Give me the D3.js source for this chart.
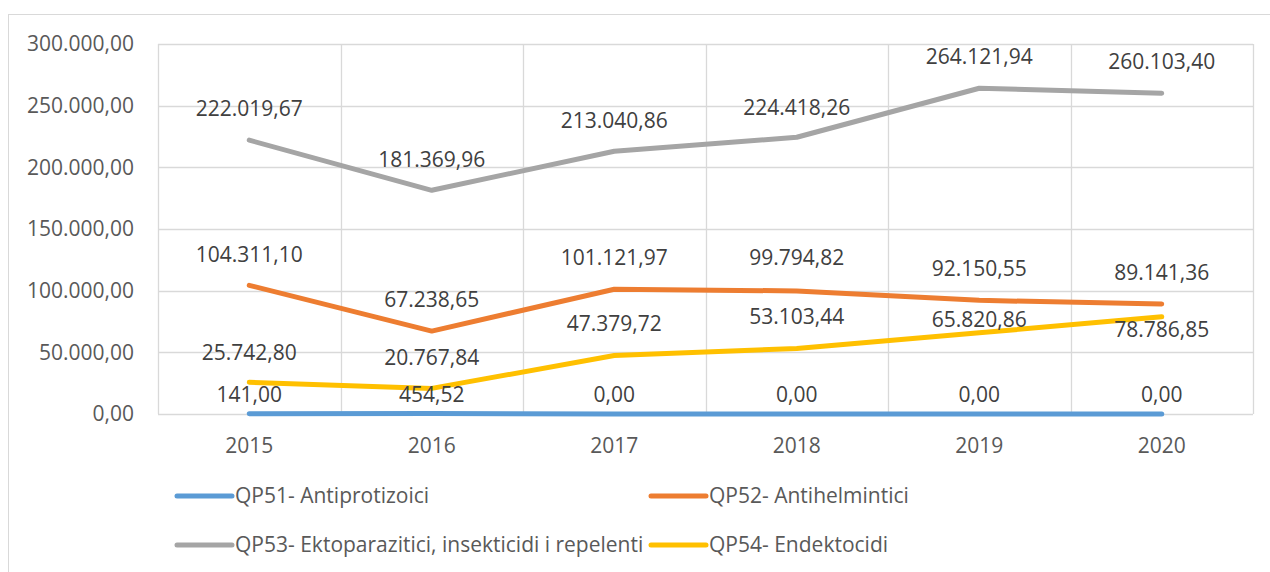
<!DOCTYPE html>
<html>
<head>
<meta charset="utf-8">
<script src="https://cdn.jsdelivr.net/npm/d3@7"></script>
<style>
  body { margin: 0; background: #fff; }
  svg { display: block; font-family: "Open Sans", sans-serif; }
</style>
</head>
<body>
<svg width="1270" height="572"></svg>
<script>
// data
var years = ["2015", "2016", "2017", "2018", "2019", "2020"];
var seriesNames = [
  "QP51- Antiprotizoici",
  "QP52- Antihelmintici",
  "QP53- Ektoparazitici, insekticidi i repelenti",
  "QP54- Endektocidi"
];
var qp51 = [141.00, 454.52, 0, 0, 0, 0];
var qp52 = [104311.10, 67238.65, 101121.97, 99794.82, 92150.55, 89141.36];
var qp53 = [222019.67, 181369.96, 213040.86, 224418.26, 264121.94, 260103.40];
var qp54 = [25742.80, 20767.84, 47379.72, 53103.44, 65820.86, 78786.85];
var yTicks = [0, 50000, 100000, 150000, 200000, 250000, 300000];

var colors = ["#5B9BD5", "#ED7D31", "#A5A5A5", "#FFC000"];
// label distance above the point (negative = below), like the Excel placement
var labelLift = [
  [19, 19, 19, 19, 19, 19],
  [31, 31, 32, 33, 32, 31],
  [32, 31, 31, 30, 32, 32],
  [30, 31, 32, 32, 13, -13]
];

var allSeries = [qp51, qp52, qp53, qp54];

var svg = d3.select("svg");
var plotLeft = 158, plotRight = 1253, plotTop = 44, plotBottom = 414;
var fs = 21;

var x = d3.scaleBand().domain(years).range([plotLeft, plotRight]);
var y = d3.scaleLinear().domain([0, 300000]).range([plotBottom, plotTop]);

var fmt = d3.formatLocale({decimal: ",", thousands: ".", grouping: [3], currency: ["", ""]}).format(",.2f");

// outer chart border
svg.append("rect")
  .attr("x", 8.5).attr("y", 14.5)
  .attr("width", 1300).attr("height", 600)
  .attr("fill", "none").attr("stroke", "#d9d9d9");

// horizontal gridlines
svg.append("g").selectAll("line")
  .data(yTicks).enter().append("line")
  .attr("x1", plotLeft).attr("x2", plotRight)
  .attr("y1", function(d) { return Math.round(y(d)) + 0.5; })
  .attr("y2", function(d) { return Math.round(y(d)) + 0.5; })
  .attr("stroke", "#d9d9d9").attr("stroke-width", 1.3);

// vertical gridlines at category edges
var edges = years.map(function(d) { return x(d); }).concat([plotRight]);
svg.append("g").selectAll("line")
  .data(edges).enter().append("line")
  .attr("x1", function(d) { return Math.round(d) + 0.5; })
  .attr("x2", function(d) { return Math.round(d) + 0.5; })
  .attr("y1", plotTop).attr("y2", plotBottom)
  .attr("stroke", "#d9d9d9").attr("stroke-width", 1.3);

// y axis labels
svg.append("g").selectAll("text")
  .data(yTicks).enter().append("text")
  .attr("x", 134).attr("y", function(d) { return y(d); })
  .attr("dy", "0.35em")
  .attr("text-anchor", "end")
  .attr("font-size", fs).attr("fill", "#595959")
  .text(function(d) { return fmt(d); });

// x axis labels
svg.append("g").selectAll("text")
  .data(years).enter().append("text")
  .attr("x", function(d) { return x(d) + x.bandwidth() / 2; })
  .attr("y", 446).attr("dy", "0.35em")
  .attr("text-anchor", "middle")
  .attr("font-size", fs).attr("fill", "#595959")
  .text(function(d) { return d; });

var line = d3.line()
  .x(function(d, i) { return x(years[i]) + x.bandwidth() / 2; })
  .y(function(d) { return y(d); });

allSeries.forEach(function(vals, s) {
  svg.append("path")
    .datum(vals)
    .attr("d", line)
    .attr("fill", "none")
    .attr("stroke", colors[s])
    .attr("stroke-width", 5)
    .attr("stroke-linecap", "round")
    .attr("stroke-linejoin", "round");
});

// data labels
allSeries.forEach(function(vals, s) {
  svg.append("g").selectAll("text")
    .data(vals).enter().append("text")
    .attr("x", function(d, i) { return x(years[i]) + x.bandwidth() / 2; })
    .attr("y", function(d, i) { return y(d) - labelLift[s][i]; })
    .attr("dy", "0.35em")
    .attr("text-anchor", "middle")
    .attr("font-size", fs).attr("fill", "#404040")
    .text(function(d) { return fmt(d); });
});

// legend
var legendPos = [[177, 496], [651, 496], [177, 545], [651, 545]];
var lg = svg.append("g").selectAll("g")
  .data(seriesNames).enter().append("g")
  .attr("transform", function(d, i) { return "translate(" + legendPos[i][0] + "," + legendPos[i][1] + ")"; });
lg.append("line")
  .attr("x1", 0).attr("x2", 55)
  .attr("stroke", function(d, i) { return colors[i]; })
  .attr("stroke-width", 5).attr("stroke-linecap", "round");
lg.append("text")
  .attr("x", 58).attr("dy", "0.35em")
  .attr("font-size", fs).attr("fill", "#595959")
  .text(function(d) { return d; });
</script>
</body>
</html>
